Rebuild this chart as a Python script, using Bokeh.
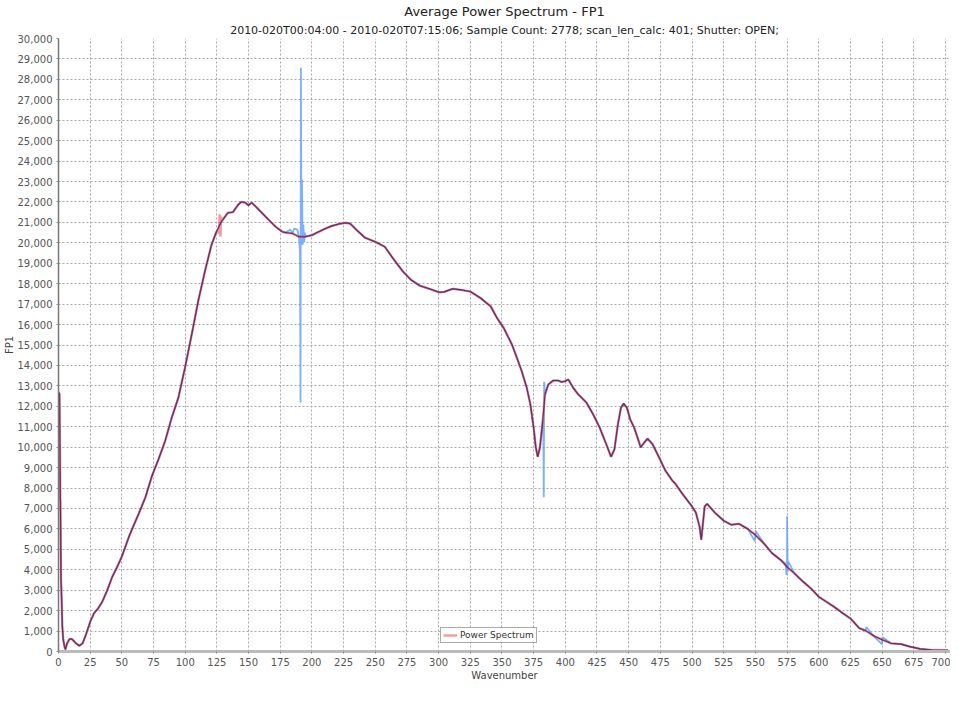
from bokeh.plotting import figure
from bokeh.models import (Range1d, SingleIntervalTicker, NumeralTickFormatter, Title,
                          Legend, LegendItem)
from bokeh.embed import file_html
from bokeh.resources import INLINE

TITLE = "Average Power Spectrum - FP1"
SUBTITLE = "2010-020T00:04:00 - 2010-020T07:15:06; Sample Count: 2778; scan_len_calc: 401; Shutter: OPEN;"
X_LABEL = "Wavenumber"
Y_LABEL = "FP1"
SERIES_NAME = "Power Spectrum"

# main (mean) spectrum
wavenumber = [0, 0.8, 1.5, 2, 2.5, 3, 3.7, 4.7, 5.5, 6.8, 8.6, 10, 11.2, 13.8, 16.4, 19, 21.6,
              25, 28, 31.3, 34.6, 38.5, 42.4, 46.3, 50, 55.5, 59.3, 63.3, 68.6, 73.8, 79, 84.2,
              89.4, 94.6, 99.8, 105.1, 110.2, 115.5, 120.7, 124.6, 128.5, 133.7, 137.6, 141.5,
              144.2, 147.3, 149.9, 152.5, 155.9, 161.1, 166.3, 171.5, 176.7, 179.4, 184.6,
              189.8, 195, 200.2, 205.4, 210.7, 215.9, 221.1, 226.3, 230.2, 235.4, 241.9, 250,
              257.5, 264, 271.9, 278.4, 284.9, 292.7, 300.5, 304.5, 311, 317.7, 325.3, 333.3,
              341.1, 346.1, 351.4, 357.9, 361.8, 365.7, 369.6, 372.4, 375, 376.7, 378.2, 380,
              381.9, 384, 386.6, 390.5, 394.4, 397, 399.8, 402.4, 406.3, 410.2, 416.7, 421.9,
              427.1, 432.3, 436.1, 438.8, 441.5, 443.9, 446, 448.6, 451.2, 454.3, 457, 459.5,
              462.3, 464.9, 468.8, 474, 479, 484.5, 487, 492, 500, 503, 506, 507.3, 508.5, 510,
              512, 518, 525, 531, 537, 544, 550, 557, 563, 570, 575, 581, 588, 594, 600, 606,
              612, 619, 625, 632, 637, 643, 650, 657, 665, 672, 680, 690, 702]
power = [12700, 12600, 7400, 3500, 2500, 1250, 600, 250, 100, 400, 600, 620, 570, 400, 280, 400, 810,
         1450, 1870, 2110, 2440, 3000, 3650, 4140, 4650, 5600, 6170, 6740, 7550, 8600, 9420, 10310,
         11450, 12420, 13880, 15500, 17130, 18590, 19890, 20540, 21030, 21470, 21500, 21840,
         22000, 21970, 21840, 21970, 21760, 21430, 21100, 20780, 20540, 20500, 20460,
         20300, 20300, 20380, 20540, 20700, 20830, 20920, 20980, 20940, 20620, 20250, 20050,
         19810, 19240, 18590, 18180, 17910, 17750, 17580, 17600, 17750, 17700, 17610, 17290,
         16890, 16320, 15830, 15020, 14370, 13700, 12900, 12100, 10960, 10000, 9530, 10000,
         11120, 12580, 13070, 13260, 13260, 13190, 13230, 13310, 12900, 12580, 12180, 11610,
         10960, 10150, 9530, 9900, 11120, 11930, 12130, 11930, 11360, 10960, 10470, 9990,
         10230, 10420, 10150, 9500, 8850, 8360, 8200, 7750, 7100, 6800, 6100, 5470, 6200, 7100,
         7220, 6800, 6400, 6200, 6250, 6000, 5700, 5270, 4820, 4480, 4140, 3810, 3400, 3080, 2680, 2440,
         2190, 1870, 1620, 1140, 1020, 780, 580, 400, 360, 240, 130, 70, 60]

# raw-sample spikes seen only in the blue trace
spike_wn = [1.2, 183, 186, 188.5, 190, 190.6, 191, 191.3, 191.7, 192.2, 192.6, 193.2, 194, 194.6,
            382.6, 383, 383.3, 549.5, 550.2, 574, 574.5, 575, 575.5, 576, 637.5, 650, 650.4]
spike_fp = [7500, 20650, 20700, 20650, 20100, 19500, 12180, 28570, 21600, 23100, 19900, 20900, 20050, 20500,
            11300, 7550, 13200, 5400, 5900, 4300, 3750, 6620, 3900, 4400, 1200, 350, 700]

# small glitch seen only in the red trace
glitch_wn = [126.6, 127.2, 127.8, 128.3]
glitch_fp = [20500, 21400, 20300, 21300]


def merged(xa, ya, xb, yb):
    pts = sorted(zip(list(xa) + list(xb), list(ya) + list(yb)))
    return [a for a, _ in pts], [b for _, b in pts]


blue_x, blue_y = merged(wavenumber, power, spike_wn, spike_fp)
red_x, red_y = merged(wavenumber, power, glitch_wn, glitch_fp)

p = figure(frame_width=892, frame_height=613, output_backend="svg", toolbar_location=None,
           x_range=Range1d(0, 704), y_range=Range1d(0, 30000),
           min_border_left=0, min_border_right=0, min_border_top=0, min_border_bottom=0,
           background_fill_color="white", border_fill_color="white")
p.outline_line_color = None

sub = Title(text=SUBTITLE, align="center", text_font_size="11px", text_font="DejaVu Sans",
            text_font_style="normal", text_color="#222222", standoff=4, offset=-24)
main = Title(text=TITLE, align="center", text_font_size="13px", text_font="DejaVu Sans",
             text_font_style="normal", text_color="#222222", standoff=2, offset=-24)
p.add_layout(sub, "above")
p.add_layout(main, "above")

p.line(blue_x, blue_y, line_color="#5c9cff", line_alpha=0.8, line_width=1.8)
red_r = p.line(red_x, red_y, line_color="#e0202f", line_alpha=0.45, line_width=2.4)
p.line(wavenumber, power, line_color="#6a2b55", line_width=1.1)

legend = Legend(items=[LegendItem(label=SERIES_NAME, renderers=[red_r])],
                location=(382, 8), orientation="horizontal",
                border_line_color="#555555", border_line_width=1,
                background_fill_color="white", background_fill_alpha=1.0,
                label_text_font_size="9px", label_text_font="DejaVu Sans",
                label_text_color="#333333", glyph_width=14, glyph_height=8,
                padding=2, spacing=0, margin=0, label_standoff=3, label_height=9)
p.add_layout(legend)

p.xaxis.ticker = SingleIntervalTicker(interval=25)
p.yaxis.ticker = SingleIntervalTicker(interval=1000)
p.yaxis.formatter = NumeralTickFormatter(format="0,0")
for ax in (p.xaxis, p.yaxis):
    ax.major_label_text_font = "DejaVu Sans"
    ax.major_label_text_font_size = "10px"
    ax.major_label_text_color = "#555555"
    ax.axis_label_text_font = "DejaVu Sans"
    ax.axis_label_text_font_size = "10px"
    ax.axis_label_text_font_style = "normal"
    ax.axis_label_text_color = "#444444"
    ax.major_tick_in = 0
    ax.major_tick_out = 2
    ax.minor_tick_line_color = None
    ax.major_tick_line_color = "#888888"
    ax.major_label_standoff = 2
    ax.axis_label_standoff = 0
p.xaxis.axis_label_standoff = 1
p.xaxis.axis_label = X_LABEL
p.yaxis.axis_label = Y_LABEL
p.xaxis.axis_line_color = "#bbbbbb"
p.xaxis.axis_line_width = 3
p.yaxis.axis_line_color = "#777777"
p.yaxis.axis_line_width = 1.5

for g in (p.xgrid, p.ygrid):
    g.grid_line_color = "#a8a8a8"
    g.grid_line_dash = "2 2"
    g.grid_line_width = 1

open("out.html", "w").write(file_html(p, INLINE))
